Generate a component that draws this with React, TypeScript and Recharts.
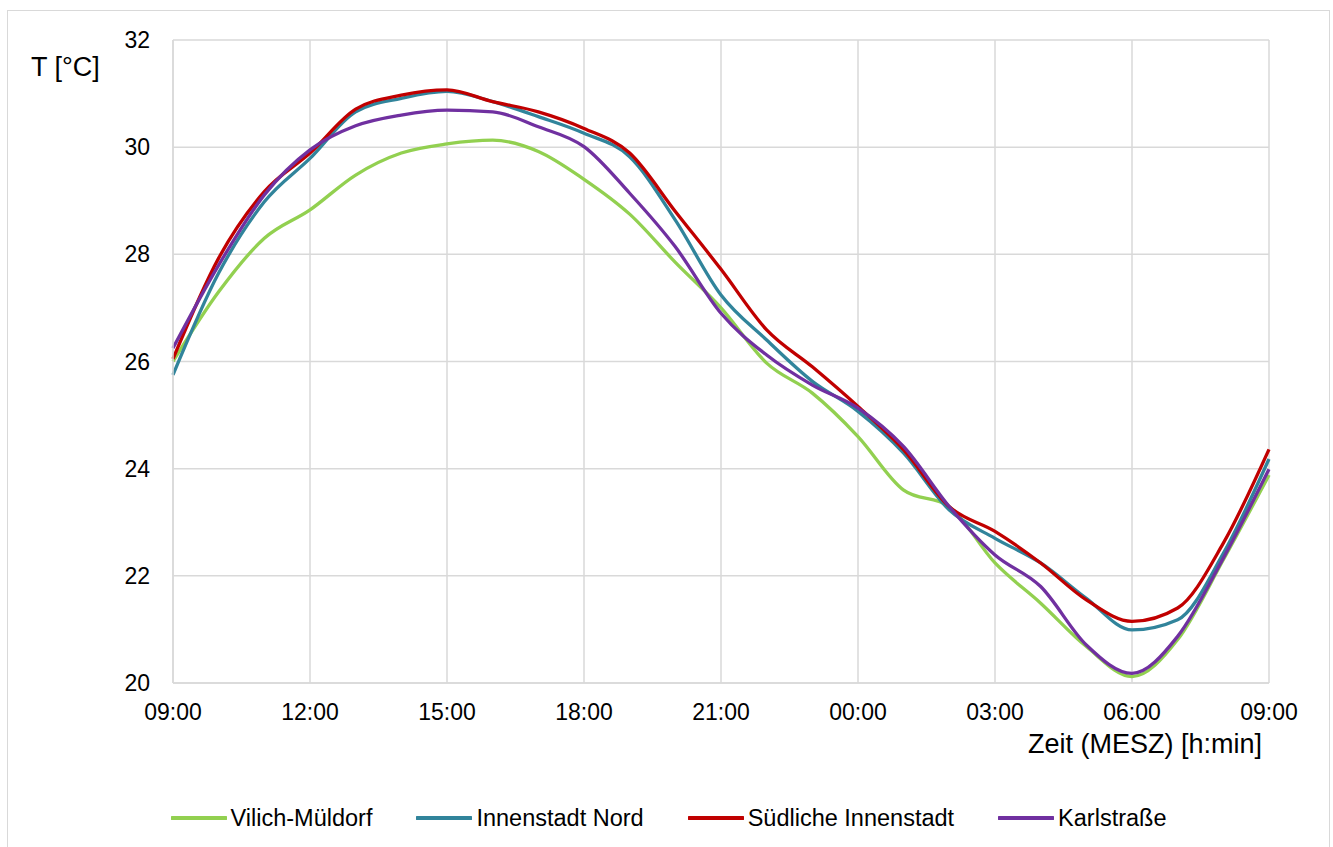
import React from 'react';
import { LineChart, Line, XAxis, YAxis, CartesianGrid, Legend } from 'recharts';

// Uhrzeit (MESZ), stündlich von 09:00 bis 09:00 am Folgetag
const times = [
  '09:00', '10:00', '11:00', '12:00', '13:00', '14:00', '15:00', '16:00', '17:00',
  '18:00', '19:00', '20:00', '21:00', '22:00', '23:00', '00:00', '01:00', '02:00',
  '03:00', '04:00', '05:00', '06:00', '07:00', '08:00', '09:00',
];

const vilichMueldorf = [
  26.0, 27.3, 28.3, 28.83, 29.48, 29.89, 30.06, 30.13, 29.92, 29.4, 28.75, 27.85,
  27.0, 25.97, 25.41, 24.6, 23.6, 23.29, 22.24, 21.49, 20.68, 20.12, 20.81, 22.3, 23.88,
];
const innenstadtNord = [
  25.75, 27.65, 28.98, 29.79, 30.66, 30.91, 31.04, 30.85, 30.57, 30.26, 29.82, 28.64,
  27.24, 26.4, 25.63, 25.07, 24.29, 23.23, 22.7, 22.24, 21.58, 20.99, 21.18, 22.42, 24.18,
];
const suedlicheInnenstadt = [
  26.05, 27.93, 29.17, 29.89, 30.71, 30.97, 31.07, 30.85, 30.66, 30.35, 29.89, 28.8,
  27.72, 26.59, 25.9, 25.16, 24.35, 23.29, 22.83, 22.24, 21.55, 21.15, 21.4, 22.61, 24.36,
];
const karlstrasse = [
  26.25, 27.8, 29.11, 29.95, 30.4, 30.6, 30.69, 30.66, 30.38, 30.01, 29.14, 28.14,
  26.9, 26.12, 25.56, 25.13, 24.41, 23.29, 22.39, 21.8, 20.71, 20.18, 20.87, 22.33, 23.99,
];

const yTicks = [20, 22, 24, 26, 28, 30, 32];

const series = [
  { key: 'vilich', name: 'Vilich-Müldorf', color: '#92d050', values: vilichMueldorf },
  { key: 'nord', name: 'Innenstadt Nord', color: '#31849b', values: innenstadtNord },
  { key: 'sued', name: 'Südliche Innenstadt', color: '#c00000', values: suedlicheInnenstadt },
  { key: 'karl', name: 'Karlstraße', color: '#7030a0', values: karlstrasse },
];

const data = times.map((time, i) => {
  const row: Record<string, string | number> = { time };
  series.forEach((s) => {
    row[s.key] = s.values[i];
  });
  return row;
});

const font = '"Liberation Sans", Arial, sans-serif';
const grid = '#d9d9d9';

// eigene Legende, damit die Reihenfolge der Serien erhalten bleibt
function LegendRow() {
  return (
    <div style={{ display: 'flex', justifyContent: 'center', alignItems: 'center', gap: 44 }}>
      {series.map((s) => (
        <div key={s.key} style={{ display: 'flex', alignItems: 'center' }}>
          <svg width={56} height={8}>
            <line x1={1} y1={4} x2={55} y2={4} stroke={s.color} strokeWidth={4} strokeLinecap="round" />
          </svg>
          <span style={{ marginLeft: 4, fontSize: 23.5, color: '#000', fontFamily: font, lineHeight: '28px' }}>
            {s.name}
          </span>
        </div>
      ))}
    </div>
  );
}

export default function App() {
  return (
    <div
      style={{
        position: 'absolute',
        left: 0,
        top: 0,
        width: 1333,
        height: 847,
        background: '#fff',
        overflow: 'hidden',
        fontFamily: font,
      }}
    >
      <div
        style={{
          position: 'absolute',
          left: 7,
          top: 10,
          width: 1321,
          height: 860,
          border: `1.5px solid ${grid}`,
        }}
      />
      <div style={{ position: 'absolute', left: 0, top: 0 }}>
        <LineChart width={1333} height={847} data={data} margin={{ top: 40, right: 64, left: 113, bottom: 124 }}>
          <CartesianGrid stroke={grid} strokeWidth={1.5} />
          <XAxis
            dataKey="time"
            interval={2}
            height={40}
            tickLine={false}
            tickMargin={15}
            axisLine={{ stroke: grid, strokeWidth: 1.5 }}
            tick={{ fontSize: 23, fill: '#000', fontFamily: font }}
          />
          <YAxis
            type="number"
            domain={[20, 32]}
            ticks={yTicks}
            width={60}
            tickLine={false}
            tickMargin={17}
            axisLine={{ stroke: grid, strokeWidth: 1.5 }}
            tick={{ fontSize: 23, fill: '#000', fontFamily: font }}
          />
          {series.map((s) => (
            <Line
              key={s.key}
              type="monotone"
              dataKey={s.key}
              name={s.name}
              stroke={s.color}
              strokeWidth={3.3}
              dot={false}
              activeDot={false}
              isAnimationActive={false}
            />
          ))}
          <Legend
            verticalAlign="middle"
            align="center"
            layout="horizontal"
            content={<LegendRow />}
            wrapperStyle={{ top: 804, left: 2, width: 1333 }}
          />
        </LineChart>
      </div>
      <svg
        width={1333}
        height={847}
        style={{ position: 'absolute', left: 0, top: 0, pointerEvents: 'none' }}
      >
        <text x={31} y={76} fontSize={27} fill="#000" fontFamily={font}>
          T [°C]
        </text>
        <text x={1262} y={753} fontSize={27} fill="#000" fontFamily={font} textAnchor="end">
          Zeit (MESZ) [h:min]
        </text>
      </svg>
    </div>
  );
}
